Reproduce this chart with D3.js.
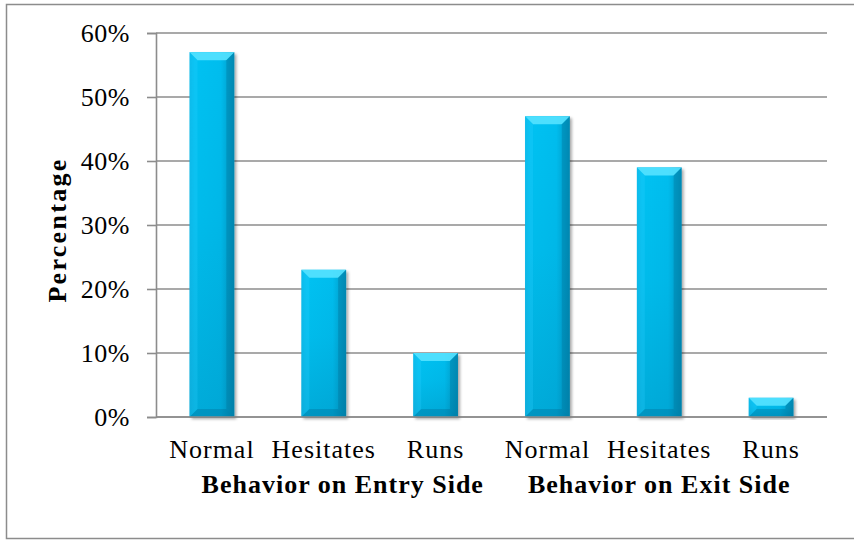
<!DOCTYPE html>
<html>
<head>
<meta charset="utf-8">
<script src="https://cdn.jsdelivr.net/npm/d3@7"></script>
<style>
  html, body { margin: 0; padding: 0; background: #fff; }
  svg { display: block; }
  text { font-family: "Liberation Serif", "DejaVu Serif", serif; fill: #000; }
</style>
</head>
<body>
<svg id="chart" width="854" height="540"></svg>
<script>
// Observed behaviour shares, grouped by side of the crossing
const groups = ["Behavior on Entry Side", "Behavior on Exit Side"];
const behaviors = ["Normal", "Hesitates", "Runs"];
const entryValues = [57, 23, 10];
const exitValues = [47, 39, 3];
const yTicks = [0, 10, 20, 30, 40, 50, 60];

const rows = [];
[entryValues, exitValues].forEach((vals, g) => {
  vals.forEach((v, i) => rows.push({ key: g * 3 + i, group: g, label: behaviors[i], value: v }));
});

const svg = d3.select("#chart");
const plot = { left: 156, right: 827, top: 33, bottom: 417 };

// outer chart frame
svg.append("rect")
  .attr("x", 6.5).attr("y", 4.5)
  .attr("width", 870).attr("height", 534)
  .attr("fill", "#fff").attr("stroke", "#8c8c8c").attr("stroke-width", 1.5);

const x = d3.scaleBand()
  .domain(rows.map(d => d.key))
  .range([plot.left, plot.right])
  .paddingInner(0.6)
  .paddingOuter(0.3);

const y = d3.scaleLinear().domain([0, 60]).range([plot.bottom, plot.top]);

// gradients and shadow
const defs = svg.append("defs");
const hg = defs.append("linearGradient").attr("id", "barH").attr("x1", 0).attr("x2", 1).attr("y1", 0).attr("y2", 0);
hg.append("stop").attr("offset", "0%").attr("stop-color", "#00b6e6");
hg.append("stop").attr("offset", "12%").attr("stop-color", "#00c2f2");
hg.append("stop").attr("offset", "70%").attr("stop-color", "#00bdee");
hg.append("stop").attr("offset", "100%").attr("stop-color", "#0096c2");

const vg = defs.append("linearGradient").attr("id", "barV").attr("x1", 0).attr("x2", 0).attr("y1", 0).attr("y2", 1);
vg.append("stop").attr("offset", "0%").attr("stop-color", "#005a80").attr("stop-opacity", 0);
vg.append("stop").attr("offset", "45%").attr("stop-color", "#005a80").attr("stop-opacity", 0.06);
vg.append("stop").attr("offset", "100%").attr("stop-color", "#005a80").attr("stop-opacity", 0.22);

const shadow = defs.append("filter").attr("id", "barShadow")
  .attr("x", "-20%").attr("y", "-5%").attr("width", "150%").attr("height", "120%");
shadow.append("feDropShadow")
  .attr("dx", 2).attr("dy", 2).attr("stdDeviation", 1.6)
  .attr("flood-color", "#000").attr("flood-opacity", 0.35);

// horizontal gridlines
svg.append("g")
  .selectAll("line")
  .data(yTicks)
  .join("line")
  .attr("x1", plot.left).attr("x2", plot.right)
  .attr("y1", d => y(d)).attr("y2", d => y(d))
  .attr("stroke", "#8c8c8c").attr("stroke-width", 1.6);

// y axis with outward ticks
const yAxis = svg.append("g")
  .attr("transform", `translate(${plot.left},0)`)
  .call(d3.axisLeft(y).tickValues(yTicks).tickSize(9).tickPadding(17).tickFormat(d => d + "%"));
yAxis.select(".domain").attr("stroke", "#8c8c8c").attr("stroke-width", 1.6);
yAxis.selectAll(".tick line").attr("stroke", "#8c8c8c").attr("stroke-width", 1.6);
yAxis.selectAll(".tick text")
  .attr("font-family", "Liberation Serif, serif")
  .attr("font-size", 26)
  .attr("letter-spacing", 0.5)
  .attr("fill", "#000");

// bars
const bars = svg.append("g").selectAll("g.bar").data(rows).join("g").attr("class", "bar");
bars.append("rect")
  .attr("x", d => x(d.key)).attr("y", d => y(d.value))
  .attr("width", x.bandwidth()).attr("height", d => y(0) - y(d.value))
  .attr("fill", "url(#barH)")
  .attr("filter", "url(#barShadow)");
bars.append("rect")
  .attr("x", d => x(d.key)).attr("y", d => y(d.value))
  .attr("width", x.bandwidth()).attr("height", d => y(0) - y(d.value))
  .attr("fill", "url(#barV)");

// bevel facets
const bev = d => Math.min(8, (y(0) - y(d.value)) / 2);
bars.append("path")
  .attr("d", d => {
    const x0 = x(d.key), x1 = x0 + x.bandwidth(), t = y(d.value), b = bev(d);
    return `M${x0},${t}L${x1},${t}L${x1 - b},${t + b}L${x0 + b},${t + b}Z`;
  })
  .attr("fill", "#55e2ff").attr("opacity", 0.9);
bars.append("path")
  .attr("d", d => {
    const x0 = x(d.key), x1 = x0 + x.bandwidth(), t = y(d.value), bt = y(0), b = bev(d);
    return `M${x1},${t}L${x1},${bt}L${x1 - b},${bt - b}L${x1 - b},${t + b}Z`;
  })
  .attr("fill", "#006f96").attr("opacity", 0.35);
bars.append("path")
  .attr("d", d => {
    const x0 = x(d.key), t = y(d.value), bt = y(0), b = bev(d);
    return `M${x0},${t}L${x0 + b},${t + b}L${x0 + b},${bt - b}L${x0},${bt}Z`;
  })
  .attr("fill", "#30d0ff").attr("opacity", 0.25);
bars.append("path")
  .attr("d", d => {
    const x0 = x(d.key), x1 = x0 + x.bandwidth(), bt = y(0), b = bev(d);
    return `M${x0},${bt}L${x1},${bt}L${x1 - b},${bt - b}L${x0 + b},${bt - b}Z`;
  })
  .attr("fill", "#00628a").attr("opacity", 0.3);

// baseline drawn over the bar bottoms
svg.append("line")
  .attr("x1", plot.left).attr("x2", plot.right)
  .attr("y1", y(0)).attr("y2", y(0))
  .attr("stroke", "#8c8c8c").attr("stroke-width", 1.6);

// category labels
svg.append("g").selectAll("text")
  .data(rows)
  .join("text")
  .attr("x", d => x(d.key) + x.bandwidth() / 2)
  .attr("y", 458)
  .attr("text-anchor", "middle")
  .attr("font-size", 26)
  .attr("letter-spacing", 1)
  .text(d => d.label);

// group labels
const groupCenter = g => {
  const a = x(g * 3), b = x(g * 3 + 2) + x.bandwidth();
  return (a + b) / 2;
};
svg.append("g").selectAll("text")
  .data(groups)
  .join("text")
  .attr("x", (d, g) => groupCenter(g) + (g === 0 ? 19 : 0))
  .attr("y", 493)
  .attr("text-anchor", "middle")
  .attr("font-size", 26)
  .attr("font-weight", "bold")
  .attr("letter-spacing", 1)
  .text(d => d);

// y axis title
svg.append("text")
  .attr("transform", "translate(66,230) rotate(-90)")
  .attr("text-anchor", "middle")
  .attr("font-size", 26)
  .attr("font-weight", "bold")
  .attr("letter-spacing", 2.3)
  .text("Percentage");
</script>
</body>
</html>
